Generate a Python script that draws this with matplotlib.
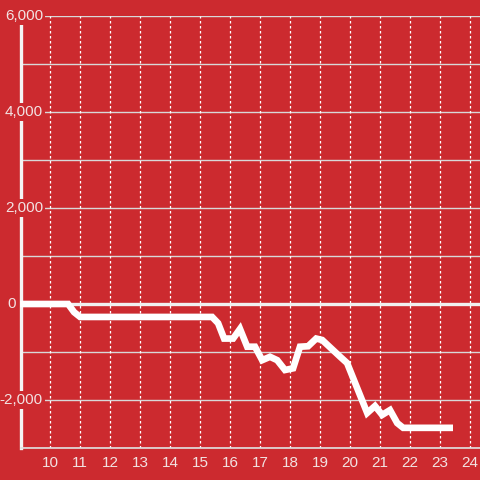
import matplotlib.pyplot as plt
from matplotlib.transforms import blended_transform_factory

# Werte
stunden = [9.0, 10.6, 10.8, 11.0, 15.4, 15.6, 15.8, 16.1, 16.33, 16.57, 16.83,
           17.07, 17.33, 17.57, 17.83, 18.1, 18.33, 18.6, 18.87, 19.07, 19.67,
           19.9, 20.57, 20.83, 21.07, 21.33, 21.57, 21.77, 23.43]
werte = [0, 0, -170, -270, -270, -400, -720, -720, -520, -890, -890,
         -1170, -1100, -1170, -1375, -1340, -890, -880, -720, -750, -1100,
         -1230, -2270, -2125, -2310, -2210, -2480, -2580, -2580]

x_ticks = list(range(10, 25))
y_ticks = [-2000, 0, 2000, 4000, 6000]
y_labels = ["-2,000", "0", "2,000", "4,000", "6,000"]

rot = "#cc2a2f"
hell = "#f2e2e2"

fig = plt.figure(figsize=(4.8, 4.8), dpi=100, facecolor=rot)
ax = fig.add_axes([21 / 480, 32 / 480, 459 / 480, 432 / 480], facecolor=rot)

ax.set_xlim(9.03, 24.33)
ax.set_ylim(-3000, 6000)

# Gitterlinien
for v in range(-3000, 6001, 1000):
    ax.axhline(v, color="#d8d8d8", lw=1, zorder=1)
for t in x_ticks:
    ax.axvline(t, color="white", lw=0.9, ls=(0, (2, 2)), zorder=1)
ax.axhline(0, color="#f0f0f0", lw=2.4, zorder=2)

ax.plot(stunden, werte, color="white", lw=4.8, zorder=4,
        solid_joinstyle="miter", solid_capstyle="butt", clip_on=False)

for s in ["top", "right"]:
    ax.spines[s].set_visible(False)
ax.spines["left"].set_color("#f4f4f4")
ax.spines["left"].set_linewidth(2.4)
ax.spines["bottom"].set_color("#e0e0e0")
ax.spines["bottom"].set_linewidth(1.2)

ax.set_xticks(x_ticks)
ax.set_yticks([])
ax.tick_params(axis="x", length=0, pad=6, labelcolor=hell, labelsize=11)
for lab in ax.get_xticklabels():
    lab.set_fontfamily("Liberation Sans")

trans = blended_transform_factory(fig.transFigure, ax.transData)
for v, txt in zip(y_ticks, y_labels):
    x_rechts = 16 / 480 if v == 0 else 43 / 480
    ax.text(x_rechts, v, txt, transform=trans, ha="right", va="center",
            color=hell, fontsize=11, family="Liberation Sans", zorder=6,
            clip_on=False,
            bbox=dict(boxstyle="square,pad=0.15", fc=rot, ec="none"))

fig.savefig("out.png", dpi=100, facecolor=rot)
